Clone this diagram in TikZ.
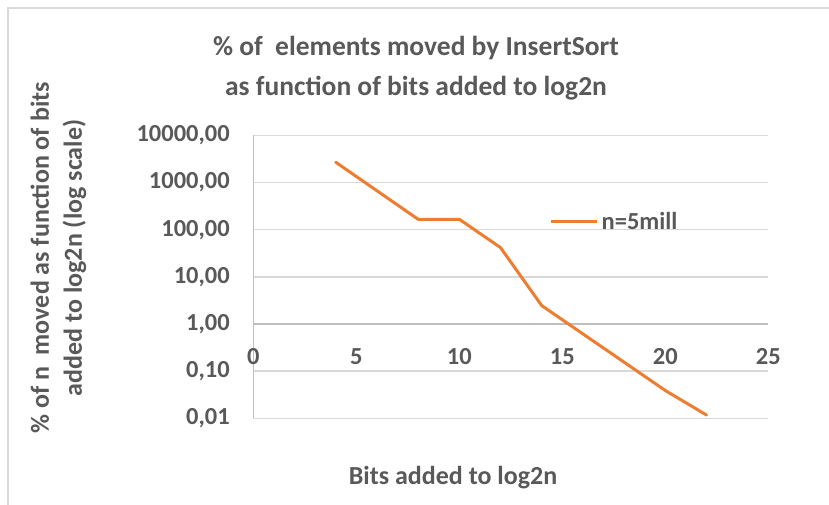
\documentclass[tikz,border=0pt]{standalone}
\usepackage{fontspec}
\setmainfont{Carlito}
\definecolor{txtgray}{HTML}{595959}
\definecolor{gridgray}{HTML}{D9D9D9}
\definecolor{axisgray}{HTML}{BFBFBF}
\definecolor{serieorange}{HTML}{ED7D31}
\tikzset{
  ticklabel/.style={text=txtgray,font=\fontsize{24.5}{26}\selectfont\bfseries,inner sep=0pt},
  axistitle/.style={text=txtgray,font=\fontsize{26}{33}\selectfont\bfseries,inner sep=0pt,align=center},
  gridline/.style={gridgray,line width=1.5pt},
  serieline/.style={serieorange,line width=3pt,line join=round,line cap=round}
}
\begin{document}
\begin{tikzpicture}[x=1pt,y=-1pt]
			\useasboundingbox (0,0) rectangle (829,505);
			% chart frame
			\draw[gridgray,line width=1.5pt] (8,505) -- (8,8) -- (829,8);
			
			\coordinate (O) at (253.3,324);
			\coordinate (E) at (768.3,324);
			
			% grid, one line per decade
			\foreach \k/\lab in {4/{10000,00},3/{1000,00},2/{100,00},1/{10,00},0/{1,00},-1/{0,10},-2/{0,01}}
			{
				\draw[gridline] (253.3,{324-47.17*\k}) -- (768.3,{324-47.17*\k});
				\path (230,{324-47.17*\k}) node[ticklabel,anchor=east] (y\k) {\lab};
			}
			\draw[axisgray,line width=1.5pt] (O) -- (E);
			\draw[axisgray,line width=1.5pt] (253.3,135.3) -- (253.3,418.3);
			
			\foreach \b in {0,5,...,25}
			\path ({253.3+20.6*\b},357) node[ticklabel] (x\b) {\b};
			
			% data, bits -> decades
			\coordinate (P1) at ({253.3+20.6*4},{324-47.17*3.43});
			\coordinate (P2) at ({253.3+20.6*8},{324-47.17*2.22});
			\coordinate (P3) at ({253.3+20.6*10},{324-47.17*2.22});
			\coordinate (P4) at ({253.3+20.6*12},{324-47.17*1.62});
			\coordinate (P5) at ({253.3+20.6*14},{324-47.17*0.39});
			\coordinate (P6) at ({253.3+20.6*16},{324-47.17*(-0.21)});
			\coordinate (P7) at ({253.3+20.6*18},{324-47.17*(-0.81)});
			\coordinate (P8) at ({253.3+20.6*20},{324-47.17*(-1.41)});
			\coordinate (P9) at ({253.3+20.6*22},{324-47.17*(-1.93)});
			\draw[serieline] (P1) -- (P2) -- (P3) -- (P4) -- (P5) -- (P6) -- (P7) -- (P8) -- (P9);
			
			% legend
			\coordinate (L1) at (550.7,221);
			\coordinate (L2) at (597.3,221);
			\draw[serieline,line cap=butt] (L1) -- (L2);
			\path (601.5,221) node[ticklabel,anchor=west] (leg) {n=5mill};
			
			% titles
			\path (416,68) node[axistitle,font=\fontsize{27.5}{40}\selectfont\bfseries] (title) {\% of\ \ elements moved by InsertSort\\as function of bits added to log2n};
			\path (453,478) node[axistitle] (xtitle) {Bits added to log2n};
			\path (58.5,258) node[axistitle,rotate=90] (ytitle) {\% of n\ \ moved as function of bits\\added to log2n (log scale)};
\end{tikzpicture}
\end{document}
